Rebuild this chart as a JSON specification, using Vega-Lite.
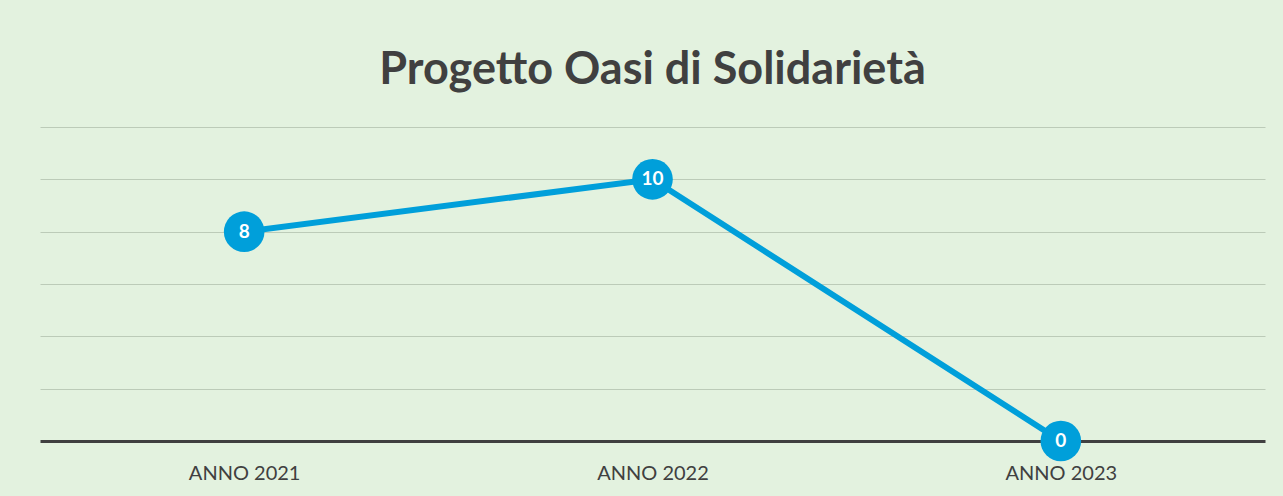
{
  "$schema": "https://vega.github.io/schema/vega-lite/v6.json",
  "width": 1225,
  "height": 314,
  "autosize": {"type": "none"},
  "padding": {"left": 40, "top": 127, "right": 18, "bottom": 55},
  "background": "#e3f2df",
  "title": {
    "text": "Progetto Oasi di Solidarietà",
    "font": "Lato",
    "fontWeight": "bold",
    "fontSize": 45,
    "color": "#404040",
    "anchor": "middle",
    "offset": 34
  },
  "data": {
    "values": [
      {"anno": "ANNO 2021", "valore": 8},
      {"anno": "ANNO 2022", "valore": 10},
      {"anno": "ANNO 2023", "valore": 0}
    ]
  },
  "config": {"view": {"stroke": null}},
  "encoding": {
    "x": {
      "field": "anno",
      "type": "ordinal",
      "sort": null,
      "scale": {"type": "point", "padding": 0.5},
      "axis": {
        "title": null,
        "labelAngle": 0,
        "labelFont": "Lato",
        "labelFontSize": 20,
        "labelColor": "#404040",
        "labelPadding": 22,
        "ticks": false,
        "domainColor": "#404040",
        "domainWidth": 3,
        "grid": false
      }
    },
    "y": {
      "field": "valore",
      "type": "quantitative",
      "scale": {"domain": [0, 12], "nice": false},
      "axis": {
        "title": null,
        "labels": false,
        "ticks": false,
        "domain": false,
        "grid": true,
        "values": [2, 4, 6, 8, 10, 12],
        "gridColor": "#bccbb8",
        "gridWidth": 1
      }
    }
  },
  "layer": [
    {"mark": {"type": "line", "color": "#009fda", "strokeWidth": 6}},
    {"mark": {"type": "point", "filled": true, "opacity": 1, "color": "#009fda", "size": 1650, "shape": "circle"}},
    {
      "mark": {"type": "text", "color": "white", "font": "Lato", "fontWeight": "bold", "fontSize": 19, "baseline": "middle", "align": "center"},
      "encoding": {"text": {"field": "valore", "type": "quantitative"}}
    }
  ]
}
